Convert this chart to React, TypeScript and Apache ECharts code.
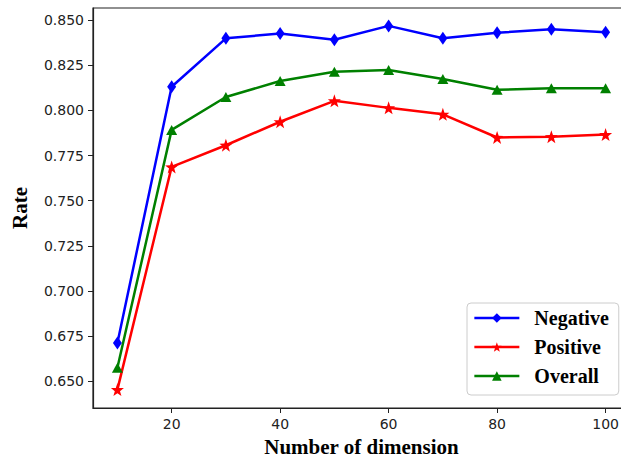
import React, { useEffect, useRef } from "react";
import * as echarts from "echarts";

const dims = [10, 20, 30, 40, 50, 60, 70, 80, 90, 100];
const negative = [0.6712, 0.8131, 0.8399, 0.8426, 0.8391, 0.8468, 0.8399, 0.843, 0.845, 0.8433];
const positive = [0.6454, 0.7687, 0.7807, 0.7937, 0.8053, 0.8014, 0.7978, 0.785, 0.7854, 0.7866];
const overall = [0.6575, 0.7892, 0.8074, 0.8163, 0.8214, 0.8224, 0.8174, 0.8114, 0.8123, 0.8123];
const xTicks = [20, 40, 60, 80, 100];
const yTicks = [0.65, 0.675, 0.7, 0.725, 0.75, 0.775, 0.8, 0.825, 0.85];

const STAR =
  "path://M0,-10 L2.35,-3.24 L9.51,-3.09 L3.8,1.24 L5.88,8.09 L0,4 L-5.88,8.09 L-3.8,1.24 L-9.51,-3.09 L-2.35,-3.24 Z";

const serif = "'Liberation Serif', 'Times New Roman', serif";
const sans = "'DejaVu Sans', sans-serif";

export default function App() {
  const ref = useRef<HTMLDivElement>(null);
  useEffect(() => {
    if (!ref.current) return;
    const chart = echarts.init(ref.current, undefined, { renderer: "svg" });
    const mk = (name: string, data: number[], color: string, symbol: string, size: any) => ({
      name,
      type: "line",
      data: dims.map((d, i) => [d, data[i]]),
      symbol,
      symbolSize: size,
      showSymbol: true,
      lineStyle: { color, width: 2.5 },
      itemStyle: { color, borderWidth: 0 },
      emphasis: { disabled: true },
    });
    chart.setOption({
      animation: false,
      backgroundColor: "#ffffff",
      grid: {
        left: 93,
        top: 8,
        width: 537,
        height: 400,
        outerBoundsMode: "none",
        containLabel: false,
        show: true,
        borderColor: "#222",
        borderWidth: 1.2,
        backgroundColor: "transparent",
      },
      xAxis: {
        type: "value",
        min: 5.5,
        max: 104.5,
        name: "Number of dimension",
        nameLocation: "middle",
        nameGap: 28,
        nameTextStyle: { fontFamily: serif, fontWeight: "bold", fontSize: 21, color: "#000" },
        axisLine: { show: true, onZero: false, lineStyle: { color: "#222", width: 1.2 } },
        axisTick: { show: true, length: 5, customValues: xTicks, lineStyle: { color: "#222", width: 1 } },
        axisLabel: {
          customValues: xTicks,
          fontFamily: sans,
          fontSize: 14,
          color: "#222",
          margin: 9,
        },
        splitLine: { show: false },
      },
      yAxis: {
        type: "value",
        min: 0.6352,
        max: 0.8567,
        name: "Rate",
        nameLocation: "middle",
        nameGap: 63,
        nameTextStyle: { fontFamily: serif, fontWeight: "bold", fontSize: 21, color: "#000" },
        axisLine: { show: true, onZero: false, lineStyle: { color: "#222", width: 1.2 } },
        axisTick: { show: true, length: 5, customValues: yTicks, lineStyle: { color: "#222", width: 1 } },
        axisLabel: {
          customValues: yTicks,
          fontFamily: sans,
          fontSize: 14,
          color: "#222",
          margin: 9,
          formatter: (v: number) => v.toFixed(3),
        },
        splitLine: { show: false },
      },
      legend: {
        orient: "vertical",
        left: 467,
        top: 303,
        padding: [5, 10, 9, 6],
        itemGap: 9,
        itemWidth: 45,
        itemHeight: 12,
        borderColor: "#cccccc",
        borderWidth: 1,
        borderRadius: 4,
        backgroundColor: "rgba(255,255,255,0.85)",
        lineStyle: { width: 2.7 },
        textStyle: {
          fontFamily: serif,
          fontWeight: "bold",
          fontSize: 20,
          color: "#000",
          padding: [0, 0, 0, 10],
        },
        data: ["Negative", "Positive", "Overall"],
      },
      series: [
        mk("Negative", negative, "#0000ff", "diamond", [9, 13]),
        mk("Positive", positive, "#ff0000", STAR, 13),
        mk("Overall", overall, "#008000", "triangle", [11, 10]),
      ],
    });
    return () => chart.dispose();
  }, []);
  return <div ref={ref} style={{ width: 621, height: 457, position: "absolute", left: 0, top: 0 }} />;
}
